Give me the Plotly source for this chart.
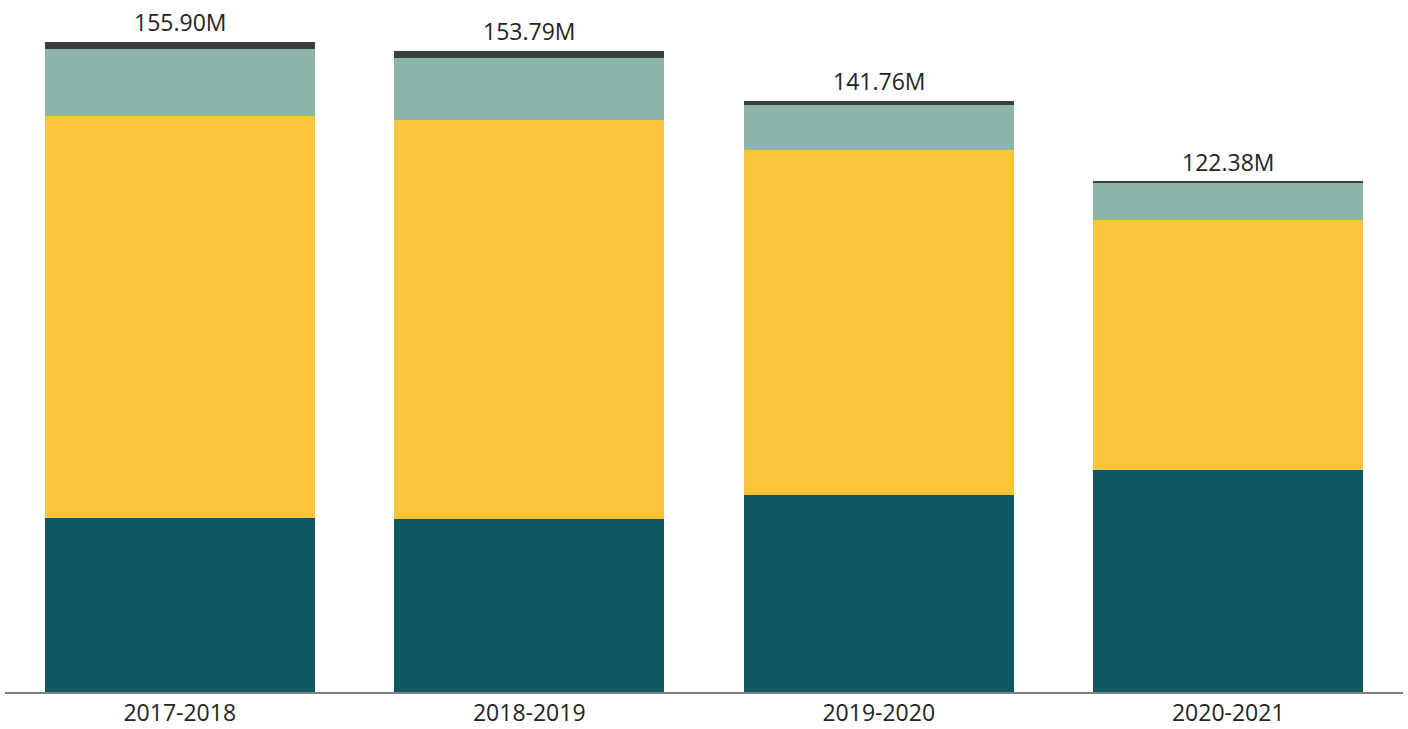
import plotly.graph_objects as go

years = ["2017-2018", "2018-2019", "2019-2020", "2020-2021"]
seg_base = [41.75, 41.51, 47.26, 53.26]     # dark teal
seg_yellow = [96.45, 95.73, 82.77, 59.98]   # yellow
seg_sage = [16.07, 14.88, 10.80, 8.88]      # sage green
seg_top = [1.63, 1.67, 0.93, 0.26]          # dark grey
totals = [155.90, 153.79, 141.76, 122.38]
total_labels = ["155.90M", "153.79M", "141.76M", "122.38M"]

colors = ["#0F5860", "#F9C53B", "#8BB5AB", "#3B3F3C"]
series = [seg_base, seg_yellow, seg_sage, seg_top]
FONT = "Open Sans, Segoe UI, sans-serif"

fig = go.Figure()
for vals, col in zip(series, colors):
    fig.add_trace(go.Bar(x=years, y=vals, marker=dict(color=col, line=dict(width=0)),
                         hoverinfo="skip", showlegend=False))

for yr, tot, lab in zip(years, totals, total_labels):
    fig.add_annotation(x=yr, y=tot, text=lab, showarrow=False, yanchor="bottom",
                       yshift=2, font=dict(family=FONT, size=23, color="#252423"))

fig.update_layout(
    width=1408, height=729,
    barmode="stack", bargap=0.227,
    margin=dict(l=5, r=5, t=0, b=37),
    plot_bgcolor="white", paper_bgcolor="white",
    xaxis=dict(showgrid=False, showline=True, linecolor="#808080", linewidth=1.5,
               automargin=False,
               ticks="outside", ticklen=0, tickcolor="rgba(0,0,0,0)",
               tickfont=dict(family=FONT, size=23, color="#252423")),
    yaxis=dict(visible=False, range=[0, 166.0], showgrid=False, zeroline=False,
               automargin=False),
)

fig.write_html("out.html", config={"displayModeBar": False},
               post_script="document.body.style.margin='0';")
